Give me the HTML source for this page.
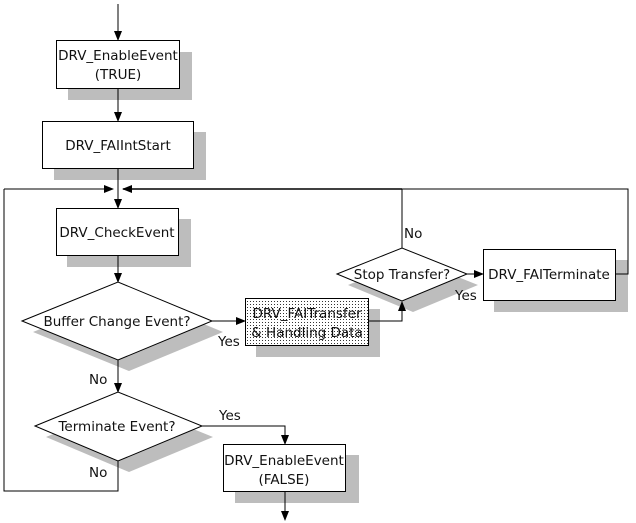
<!DOCTYPE html>
<html><head><meta charset="utf-8"><style>
html,body{margin:0;padding:0;background:#fff;}
svg{display:block;}
text{font-family:"DejaVu Sans","Liberation Sans",sans-serif;font-size:13.5px;fill:#111;}
</style></head><body>
<svg width="636" height="523" viewBox="0 0 636 523" xmlns="http://www.w3.org/2000/svg">
<defs>
<pattern id="dots" width="3" height="3" patternUnits="userSpaceOnUse">
<rect width="3" height="3" fill="#fff"/><rect x="1" y="1" width="1" height="1" fill="#333"/>
</pattern>
<marker id="ar" markerWidth="10" markerHeight="8" refX="9" refY="4" orient="auto" markerUnits="userSpaceOnUse">
<path d="M0,0 L10,4 L0,8 z" fill="#000"/>
</marker>
</defs>
<g fill="#bdbdbd">
<rect x="68" y="52" width="124" height="48"/>
<rect x="54" y="132" width="152" height="48"/>
<rect x="67" y="219" width="124" height="48"/>
<polygon points="33,332 129,293 223,332 129,371"/>
<rect x="256" y="309" width="124" height="48"/>
<polygon points="348,285 413,259 478,285 413,312"/>
<rect x="494" y="260" width="134" height="52"/>
<polygon points="46,437 129,403 213,437 129,472"/>
<rect x="235" y="455" width="124" height="48"/>
</g>
<g fill="none" stroke="#000" stroke-width="1">
<line x1="118" y1="4" x2="118" y2="40" marker-end="url(#ar)"/>
<line x1="118" y1="88" x2="118" y2="121" marker-end="url(#ar)"/>
<line x1="118" y1="168" x2="118" y2="208" marker-end="url(#ar)"/>
<polyline points="4,189 4,491 118,491 118,461"/>
<line x1="4" y1="189" x2="113" y2="189" marker-end="url(#ar)"/>
<polyline points="615,274 628,274 628,189 402,189"/>
<line x1="402" y1="189" x2="123" y2="189" stroke-width="1.5" marker-end="url(#ar)"/>
<line x1="402" y1="189" x2="402" y2="248"/>
<line x1="118" y1="255" x2="118" y2="282" marker-end="url(#ar)"/>
<line x1="212" y1="321" x2="245" y2="321" marker-end="url(#ar)"/>
<polyline points="368,321 402,321 402,302" marker-end="url(#ar)"/>
<line x1="467" y1="274" x2="483" y2="274" marker-end="url(#ar)"/>
<line x1="118" y1="360" x2="118" y2="392" marker-end="url(#ar)"/>
<polyline points="202,426 285,426 285,444" marker-end="url(#ar)"/>
<line x1="285" y1="491" x2="285" y2="520" marker-end="url(#ar)"/>
</g>
<g stroke="#000" stroke-width="1">
<rect x="56.5" y="40.5" width="123" height="48" fill="#fff"/>
<rect x="42.5" y="121.5" width="151" height="47" fill="#fff"/>
<rect x="56.5" y="208.5" width="122" height="47" fill="#fff"/>
<polygon points="22,321 118,282 212,321 118,360" fill="#fff"/>
<rect x="245.5" y="298.5" width="123" height="47" fill="url(#dots)"/>
<polygon points="337,274 402,248 467,274 402,301" fill="#fff"/>
<rect x="483.5" y="249.5" width="132" height="51" fill="#fff"/>
<polygon points="35,426 118,392 202,426 118,461" fill="#fff"/>
<rect x="223.5" y="444.5" width="122" height="47" fill="#fff"/>
</g>
<g text-anchor="middle">
<text x="118" y="60">DRV_EnableEvent</text>
<text x="118" y="79">(TRUE)</text>
<text x="118" y="150">DRV_FAIIntStart</text>
<text x="117" y="237">DRV_CheckEvent</text>
<text x="117" y="326">Buffer Change Event?</text>
<text x="307" y="318">DRV_FAITransfer</text>
<text x="307" y="337">&amp; Handling Data</text>
<text x="402" y="279">Stop Transfer?</text>
<text x="549" y="279">DRV_FAITerminate</text>
<text x="117" y="431">Terminate Event?</text>
<text x="284" y="465">DRV_EnableEvent</text>
<text x="284" y="484">(FALSE)</text>
</g>
<text x="218" y="346">Yes</text>
<text x="455" y="300">Yes</text>
<text x="404" y="238">No</text>
<text x="89" y="384">No</text>
<text x="219" y="420">Yes</text>
<text x="89" y="477">No</text>
</svg>
</body></html>
